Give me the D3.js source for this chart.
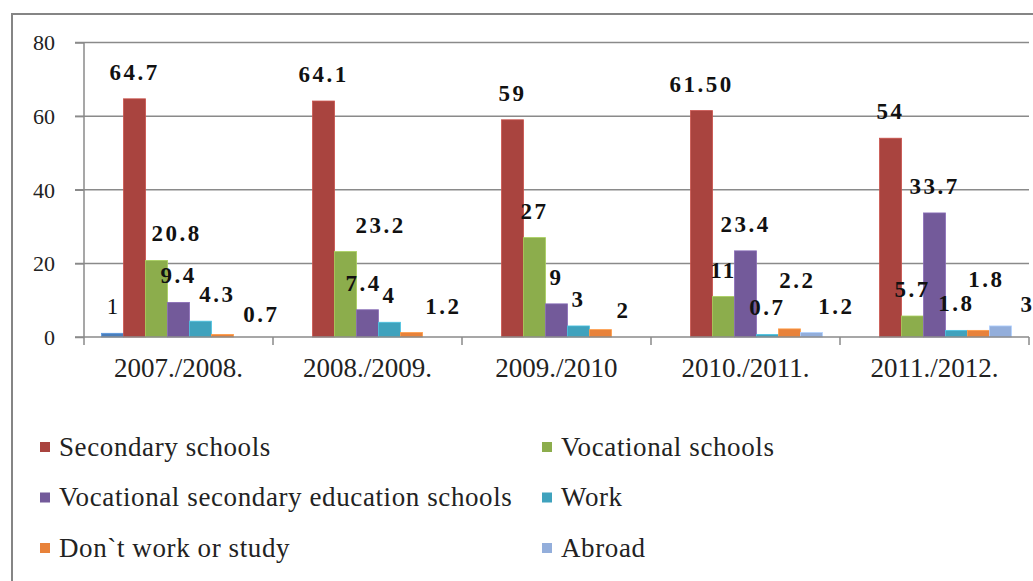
<!DOCTYPE html>
<html>
<head>
<meta charset="utf-8">
<script src="https://cdn.jsdelivr.net/npm/d3@7"></script>
<style>
	body { margin: 0; background: #fff; }
	svg { display: block; }
</style>
</head>
<body>
<svg id="chart" width="1033" height="581"></svg>
<script>
// school years on the x axis
const categories = ["2007./2008.", "2008./2009.", "2009./2010", "2010./2011.", "2011./2012."];
const yTicks = [0, 20, 40, 60, 80];

// one array per series (null = no bar)
const unnamed = [1, null, null, null, null];
const secondarySchools = [64.7, 64.1, 59, 61.5, 54];
const vocationalSchools = [20.8, 23.2, 27, 11, 5.7];
const vocationalSecondary = [9.4, 7.4, 9, 23.4, 33.7];
const work = [4.3, 4, 3, 0.7, 1.8];
const dontWorkOrStudy = [0.7, 1.2, 2, 2.2, 1.8];
const abroad = [null, null, null, 1.2, 3];

const series = [
	{ name: "", values: unnamed, color: "#4a7ebb", legend: false },
	{ name: "Secondary schools", values: secondarySchools, color: "#a9443f", legend: true },
	{ name: "Vocational schools", values: vocationalSchools, color: "#8cad4c", legend: true },
	{ name: "Vocational secondary education schools", values: vocationalSecondary, color: "#735a9a", legend: true },
	{ name: "Work", values: work, color: "#3fa2bd", legend: true },
	{ name: "Don`t work or study", values: dontWorkOrStudy, color: "#e8823a", legend: true },
	{ name: "Abroad", values: abroad, color: "#93aedb", legend: true },
];

// label text that differs from the plain value
const labelText = { "1|3": "61.50" };
// labels that were dragged away from their bar in the original (series|category -> px)
const labelNudge = {
	"2|0": [20, 0], "4|0": [17, 0], "5|0": [39, 7],
	"2|1": [35, 0], "3|1": [-4, 0], "5|1": [32, 0],
	"5|2": [23, 7],
	"5|3": [8, -22], "6|3": [25, 0],
	"5|4": [8, -24], "6|4": [27, 5],
};

const FONT = "Liberation Serif";
const svg = d3.select("#chart");
const gridColor = "#8a8a8a";

// outer frame, runs off the right and bottom edge
svg.append("rect")
	.attr("x", 12).attr("y", 14)
	.attr("width", 1060).attr("height", 620)
	.attr("fill", "none")
	.attr("stroke", "#858585")
	.attr("stroke-width", 2);

const plot = { left: 84, right: 1029, top: 42.5, bottom: 337 };

const x0 = d3.scaleBand().domain(categories).range([plot.left, plot.right]);
const x1 = d3.scaleBand()
	.domain(d3.range(series.length))
	.range([0, x0.bandwidth()])
	.paddingOuter(0.8);
const y = d3.scaleLinear().domain([0, 80]).range([plot.bottom, plot.top]);

// gridlines
svg.append("g")
	.selectAll("line")
	.data(yTicks.filter((d) => d > 0))
	.join("line")
	.attr("x1", plot.left - 9)
	.attr("x2", plot.right)
	.attr("y1", (d) => y(d))
	.attr("y2", (d) => y(d))
	.attr("stroke", gridColor)
	.attr("stroke-width", 1.5);

// y axis
const yAxis = svg.append("g")
	.attr("transform", `translate(${plot.left},0)`)
	.call(d3.axisLeft(y).tickValues(yTicks).tickSize(9).tickPadding(20))
	.attr("font-family", FONT)
	.attr("font-size", 22);
yAxis.select(".domain").attr("stroke", gridColor).attr("stroke-width", 1.5)
	.attr("d", `M0,${plot.top}V${plot.bottom + 8}`);
yAxis.selectAll(".tick line").attr("stroke", gridColor).attr("stroke-width", 1.5);
yAxis.selectAll(".tick text")
	.attr("fill", "#222")
	.attr("dy", "0.33em");

// bars
const groups = svg.append("g")
	.selectAll("g")
	.data(categories)
	.join("g")
	.attr("transform", (c) => `translate(${x0(c)},0)`);

groups.selectAll("rect")
	.data((c, ci) => series.map((s, si) => ({ si, ci, value: s.values[ci], color: s.color })))
	.join("rect")
	.filter((d) => d.value != null)
	.attr("x", (d) => x1(d.si))
	.attr("y", (d) => y(d.value))
	.attr("width", x1.bandwidth())
	.attr("height", (d) => y(0) - y(d.value))
	.attr("fill", (d) => d.color)
	.attr("stroke", (d) => d3.color(d.color).brighter(0.5))
	.attr("stroke-width", 0.8);

// x axis line and category ticks
const xAxis = svg.append("g");
xAxis.append("line")
	.attr("x1", plot.left - 9).attr("x2", plot.right)
	.attr("y1", y(0)).attr("y2", y(0))
	.attr("stroke", gridColor).attr("stroke-width", 1.5);
xAxis.selectAll(".cat-tick")
	.data(categories.map((c) => x0(c) + x0.bandwidth()))
	.join("line")
	.attr("class", "cat-tick")
	.attr("x1", (d) => d).attr("x2", (d) => d)
	.attr("y1", y(0)).attr("y2", y(0) + 8)
	.attr("stroke", gridColor).attr("stroke-width", 1.5);
xAxis.selectAll("text")
	.data(categories)
	.join("text")
	.attr("x", (c) => x0(c) + x0.bandwidth() / 2)
	.attr("y", 377)
	.attr("text-anchor", "middle")
	.attr("font-family", FONT)
	.attr("font-size", 27)
	.attr("fill", "#222")
	.text((c) => c);

// data labels
const labels = [];
series.forEach((s, si) => {
	s.values.forEach((v, ci) => {
		if (v == null) return;
		const key = `${si}|${ci}`;
		const nudge = labelNudge[key] || [0, 0];
		labels.push({
			text: labelText[key] || String(v),
			x: x0(categories[ci]) + x1(si) + x1.bandwidth() / 2 + nudge[0],
			y: y(v) - 19 + nudge[1],
			bold: s.legend,
		});
	});
});

svg.append("g")
	.selectAll("text")
	.data(labels)
	.join("text")
	.attr("x", (d) => d.x)
	.attr("y", (d) => d.y)
	.attr("text-anchor", "middle")
	.attr("font-family", FONT)
	.attr("font-size", 23)
	.attr("font-weight", (d) => (d.bold ? "bold" : "normal"))
	.attr("letter-spacing", (d) => (d.bold ? 2.5 : 0))
	.attr("fill", "#111")
	.text((d) => d.text);

// legend, two columns
const legendItems = series.filter((s) => s.legend);
const legend = svg.append("g")
	.selectAll("g")
	.data(legendItems)
	.join("g")
	.attr("transform", (d, i) => `translate(${i % 2 === 0 ? 40 : 542},${447 + Math.floor(i / 2) * 50.5})`);

legend.append("rect")
	.attr("x", 0).attr("y", -5)
	.attr("width", 10).attr("height", 10)
	.attr("fill", (d) => d.color);

legend.append("text")
	.attr("x", 19)
	.attr("y", 0)
	.attr("dy", "0.32em")
	.attr("font-family", FONT)
	.attr("font-size", 27)
	.attr("letter-spacing", 0.6)
	.attr("fill", "#222")
	.text((d) => d.name);
</script>
</body>
</html>
